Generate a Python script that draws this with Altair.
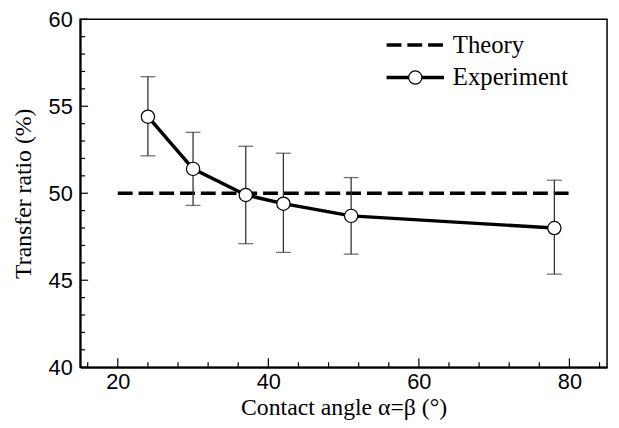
import altair as alt
import pandas as pd

# Data
angle = [24, 30, 37, 42, 51, 78]
ratio = [54.4, 51.4, 49.9, 49.4, 48.7, 48.0]
err_low = [52.15, 49.3, 47.1, 46.6, 46.5, 45.35]
err_high = [56.7, 53.5, 52.7, 52.3, 50.9, 50.75]
theory_x = [20, 80]
theory_y = [50, 50]
x_major = [20, 40, 60, 80]
x_minor = [16, 24, 28, 32, 36, 44, 48, 52, 56, 64, 68, 72, 76, 84]
y_major = [40, 45, 50, 55, 60]
y_minor = [41, 42, 43, 44, 46, 47, 48, 49, 51, 52, 53, 54, 56, 57, 58, 59]
legend_labels = ["Theory", "Experiment"]

W, H = 533, 352
xs = alt.Scale(domain=[15, 85], nice=False, zero=False)
ys = alt.Scale(domain=[40, 60], nice=False, zero=False)

SERIF = "Liberation Serif"
SANS = "Liberation Sans"

x_axis = alt.Axis(
    values=x_major, title="Contact angle α=β (°)", tickSize=0, labelPadding=5,
    labelFont=SANS, labelFontSize=22, labelColor="black",
    titleFont=SERIF, titleFontSize=24, titleFontWeight="normal", titleColor="black",
    titleY=41, titleBaseline="middle",
    grid=False, domainColor="black", domainWidth=2)
y_axis = alt.Axis(
    values=y_major, title="Transfer ratio (%)", tickSize=0, labelPadding=8,
    labelFont=SANS, labelFontSize=22, labelColor="black",
    titleFont=SERIF, titleFontSize=24, titleFontWeight="normal", titleColor="black",
    titleX=-57, titleBaseline="middle",
    grid=False, domainColor="black", domainWidth=2)


def X(f):
    return alt.X(f, type="quantitative", scale=xs, axis=x_axis)


def Y(f):
    return alt.Y(f, type="quantitative", scale=ys, axis=y_axis)


exp = pd.DataFrame({"x": angle, "y": ratio, "lo": err_low, "hi": err_high})
th = pd.DataFrame({"x": theory_x, "y": theory_y})

base_axes = alt.Chart(pd.DataFrame({"x": [15, 85], "y": [40, 60]})).mark_point(opacity=0).encode(
    x=X("x"), y=Y("y"))


def xtick(vals, length):
    return alt.Chart(pd.DataFrame({"x": vals})).mark_rule(color="black", strokeWidth=1.2).encode(
        x=X("x"), y=alt.value(H), y2=alt.value(H - length))


def ytick(vals, length):
    return alt.Chart(pd.DataFrame({"y": vals})).mark_rule(color="black", strokeWidth=1.2).encode(
        y=Y("y"), x=alt.value(0), x2=alt.value(length))


theory = alt.Chart(th).mark_line(color="black", strokeWidth=3.5, strokeDash=[15, 6]).encode(
    x=X("x"), y=Y("y"))

ebar = alt.Chart(exp).mark_rule(color="#333333", strokeWidth=1.3).encode(
    x=X("x"), y=Y("lo"), y2="hi:Q")
cap_lo = alt.Chart(exp).mark_tick(orient="horizontal", size=15, thickness=1.3, color="#333333").encode(
    x=X("x"), y=Y("lo"))
cap_hi = alt.Chart(exp).mark_tick(orient="horizontal", size=15, thickness=1.3, color="#333333").encode(
    x=X("x"), y=Y("hi"))

line = alt.Chart(exp).mark_line(color="black", strokeWidth=3.5).encode(x=X("x"), y=Y("y"))
pts = alt.Chart(exp).mark_point(shape="circle", filled=True, fill="white", stroke="black",
                                strokeWidth=1.2, size=180, opacity=1).encode(x=X("x"), y=Y("y"))

# Legend
LY1, LY2 = 26, 59
LX0, LX1, LXT = 310, 368, 377
leg_df = pd.DataFrame({"label": legend_labels, "row": [0, 1]})
leg_theory = alt.Chart(leg_df).transform_filter("datum.row == 0").mark_rule(
    color="black", strokeWidth=3.5, strokeDash=[15, 6]).encode(
    x=alt.value(LX0), x2=alt.value(LX1), y=alt.value(LY1))
leg_exp = alt.Chart(leg_df).transform_filter("datum.row == 1").mark_rule(
    color="black", strokeWidth=3.5).encode(
    x=alt.value(LX0), x2=alt.value(LX1), y=alt.value(LY2))
leg_pt = alt.Chart(leg_df).transform_filter("datum.row == 1").mark_point(
    shape="circle", filled=True, fill="white", stroke="black", strokeWidth=1.2, size=180, opacity=1).encode(
    x=alt.value((LX0 + LX1) / 2), y=alt.value(LY2))
text_style = dict(align="left", baseline="middle", font=SERIF, fontSize=25, color="black")
leg_t1 = alt.Chart(leg_df).transform_filter("datum.row == 0").mark_text(**text_style).encode(
    x=alt.value(LXT), y=alt.value(LY1), text="label:N")
leg_t2 = alt.Chart(leg_df).transform_filter("datum.row == 1").mark_text(**text_style).encode(
    x=alt.value(LXT), y=alt.value(LY2), text="label:N")

chart = alt.layer(
    base_axes,
    xtick(x_major, 9), xtick(x_minor, 5),
    ytick(y_major, 8), ytick(y_minor, 5),
    theory, ebar, cap_lo, cap_hi, line, pts,
    leg_theory, leg_exp, leg_pt, leg_t1, leg_t2,
).properties(
    width=W, height=H,
    padding={"left": 73, "top": 9, "right": 4, "bottom": 51},
    autosize=alt.AutoSizeParams(type="none"),
    background="white",
).configure_view(stroke="black", strokeWidth=1.5)

chart.save("out.html", embed_options={"renderer": "svg", "actions": False})
